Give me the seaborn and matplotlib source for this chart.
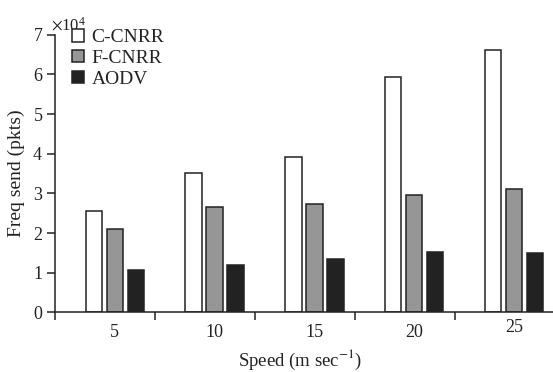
import numpy as np
import pandas as pd
import matplotlib
matplotlib.use("Agg")
import matplotlib.pyplot as plt
import matplotlib.transforms as mtransforms
from matplotlib.ticker import FixedLocator, NullFormatter, FixedFormatter
import seaborn as sns

# ---- data (values in packets) ----
speeds = ["5", "10", "15", "20", "25"]
protocols = ["C-CNRR", "F-CNRR", "AODV"]
c_cnrr = [25550, 35100, 39200, 59300, 66200]
f_cnrr = [20900, 26600, 27300, 29700, 31000]
aodv = [10700, 11900, 13500, 15300, 15000]
y_ticks = [0, 10000, 20000, 30000, 40000, 50000, 60000, 70000]

df = pd.DataFrame({
    "speed": speeds * 3,
    "protocol": [p for p in protocols for _ in speeds],
    "value": c_cnrr + f_cnrr + aodv,
})

sns.set_style("ticks")
plt.rcParams["font.family"] = ["Liberation Serif", "DejaVu Serif"]
plt.rcParams["mathtext.fontset"] = "stix"
plt.rcParams["axes.linewidth"] = 1.1
plt.rcParams["axes.edgecolor"] = "#222222"

TXT = "#222222"
fig = plt.figure(figsize=(5.53, 3.72), dpi=100)
ax = fig.add_axes([0.1000, 0.1605, 0.9000, 0.7460])

sns.barplot(data=df, x="speed", y="value", hue="protocol", order=speeds,
            hue_order=protocols, palette=["#ffffff", "#969696", "#222222"],
            width=0.63, gap=0.22, edgecolor="#222222", linewidth=1.1,
            saturation=1, ax=ax)

# axes limits / spines
ax.set_xlim(-0.596, 4.39)
ax.set_ylim(0, 70000)
sns.despine(ax=ax, top=True, right=True)

# y axis
ax.set_yticks(y_ticks)
ax.ticklabel_format(axis="y", style="sci", scilimits=(0, 0), useMathText=True)
off = ax.yaxis.get_offset_text()
off.set_fontsize(12)
off.set_color(TXT)
off.set_x(-0.008)
ax.tick_params(axis="y", direction="out", length=5.8, width=1.1, pad=3,
               labelsize=13, colors=TXT, labelcolor=TXT)

# x axis: boundary ticks (major, no label) + centred labels (minor)
ax.xaxis.set_major_locator(FixedLocator([k - 0.596 for k in range(5)]))
ax.xaxis.set_major_formatter(NullFormatter())
ax.xaxis.set_minor_locator(FixedLocator(list(range(5))))
ax.xaxis.set_minor_formatter(FixedFormatter(speeds))
ax.tick_params(axis="x", which="major", direction="out", length=5.8, width=1.1,
               colors=TXT)
ax.tick_params(axis="x", which="minor", length=0, pad=8.5, labelsize=13,
               labelcolor=TXT)
fig.canvas.draw()
minor_labels = ax.xaxis.get_minorticklabels()
if len(minor_labels) >= 5:
    lab = minor_labels[4]
    lab.set_transform(lab.get_transform() +
                      mtransforms.ScaledTranslation(0, 4 / 72, fig.dpi_scale_trans))

ax.set_xlabel("Speed (m sec$^{-1}$)", fontsize=13.5, color=TXT)
ax.xaxis.label.set_va("center")
ax.xaxis.set_label_coords(0.4925, -0.172)
ax.set_ylabel("Freq send (pkts)", fontsize=14, color=TXT, labelpad=5)

# legend
handles, labels = ax.get_legend_handles_labels()
leg = ax.legend(handles, labels, loc="upper left", bbox_to_anchor=(0.034, 1.02),
                frameon=False, fontsize=14, handlelength=0.6, handleheight=0.6,
                handletextpad=0.4, labelspacing=0.2, borderpad=0, borderaxespad=0)
for t in leg.get_texts():
    t.set_color(TXT)

fig.savefig("out.png", dpi=100)
